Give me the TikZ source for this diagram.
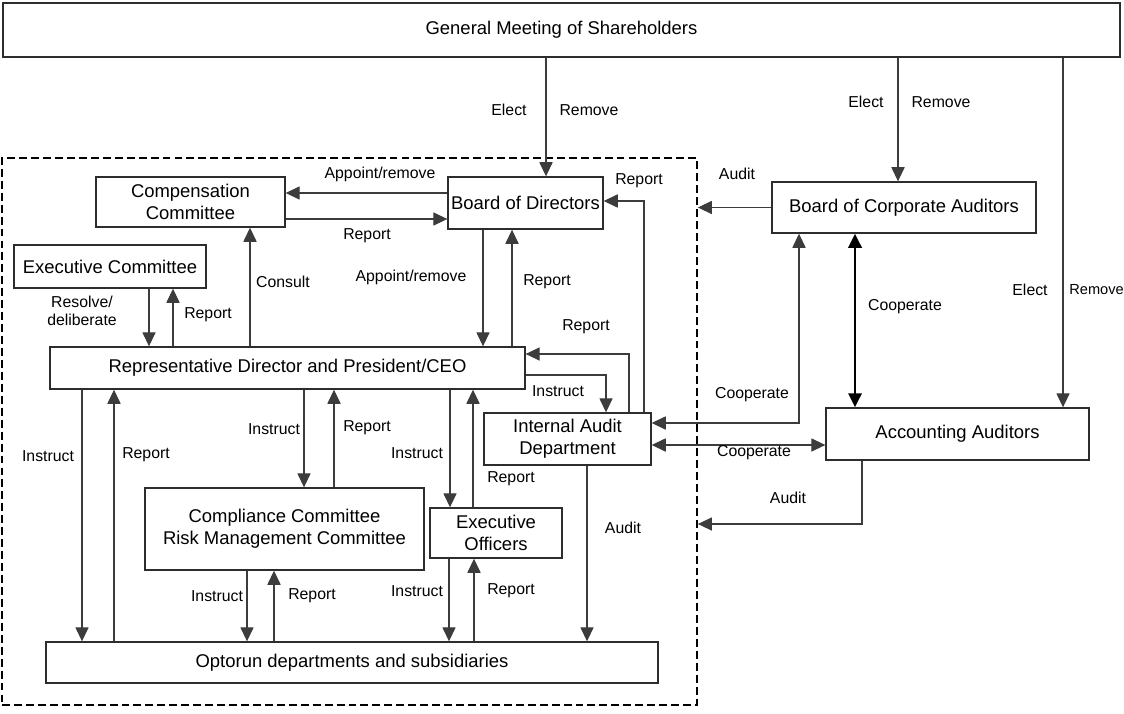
\documentclass[tikz,border=0pt]{standalone}
\usepackage{fontspec}
\setmainfont{Liberation Sans}
\usetikzlibrary{arrows.meta,positioning,calc}
\definecolor{lineC}{RGB}{60,60,60}
\definecolor{boxC}{RGB}{45,45,45}
\tikzset{
  orgbox/.style={rectangle, draw=boxC, line width=0.8pt, align=center, inner sep=0pt,
                 font=\fontsize{10.5}{12.5}\selectfont},
  lbl/.style={inner sep=0pt, align=center, font=\fontsize{9}{10.5}\selectfont},
  arr/.style={-{Triangle[length=8pt, width=7.5pt]}, line width=0.6pt, draw=lineC},
  arrboth/.style={{Triangle[length=8pt, width=7.5pt]}-{Triangle[length=8pt, width=7.5pt]},
                  line width=0.6pt, draw=lineC},
  arrthick/.style={{Triangle[length=8pt, width=7.5pt]}-{Triangle[length=8pt, width=7.5pt]},
                   line width=1.6pt, draw=black},
  groupframe/.style={rectangle, draw=black, line width=1.1pt, dash pattern=on 4.5pt off 2.3pt,
                     inner sep=0pt},
}

\begin{document}
\begin{tikzpicture}[x=0.02cm, y=-0.02cm]
  \useasboundingbox (0,0) rectangle (1124,713);

  % boxes
  \node[groupframe, minimum width=13.9cm, minimum height=10.94cm] (frame) at (349.5,431.5) {};
  \node[orgbox, minimum width=22.34cm, minimum height=1.08cm] (gm) at (561.5,30) {General Meeting of Shareholders};
  \node[orgbox, minimum width=3.78cm, minimum height=1cm] (comp) at (190.5,202) {Compensation\\Committee};
  \node[orgbox, minimum width=3.1cm, minimum height=1.04cm] (board) at (525.5,203) {Board of Directors};
  \node[orgbox, minimum width=3.84cm, minimum height=0.86cm] (execc) at (110,266.5) {Executive Committee};
  \node[orgbox, minimum width=9.5cm, minimum height=0.84cm] (ceo) at (287.5,368) {Representative Director and President/CEO};
  \node[orgbox, minimum width=3.34cm, minimum height=1.04cm] (ia) at (567.5,439) {Internal Audit\\Department};
  \node[orgbox, minimum width=5.58cm, minimum height=1.64cm] (compl) at (284.5,529) {Compliance Committee\\Risk Management Committee};
  \node[orgbox, minimum width=2.64cm, minimum height=1cm] (eo) at (496,533) {Executive\\Officers};
  \node[orgbox, minimum width=12.24cm, minimum height=0.82cm] (dept) at (352,662.5) {Optorun departments and subsidiaries};
  \node[orgbox, minimum width=5.28cm, minimum height=1.02cm] (bca) at (904,207.5) {Board of Corporate Auditors};
  \node[orgbox, minimum width=5.26cm, minimum height=1.04cm] (aa) at (957.5,434) {Accounting Auditors};

  % shareholders
  \draw[arr] (gm.south -| 546,0) -- (board.north -| 546,0);
  \draw[arr] (gm.south -| 898,0) -- (bca.north -| 898,0);
  \draw[arr] (gm.south -| 1063,0) -- (aa.north -| 1063,0);
  \node[lbl] (el1) at (509,110) {Elect};
  \node[lbl] (rm1) at (589,110) {Remove};
  \node[lbl] (el2) at (866,102) {Elect};
  \node[lbl] (rm2) at (941,102) {Remove};
  \node[lbl] (el3) at (1030,290) {Elect};
  \node[lbl, anchor=west, font=\fontsize{8.3}{10}\selectfont] (rm3) at (1069,290) {Remove};

  % board and committees
  \draw[arr] (board.west |- 0,193) -- (comp.east |- 0,193);
  \draw[arr] (comp.east |- 0,219) -- (board.west |- 0,219);
  \draw[arr] (board.south -| 483,0) -- (ceo.north -| 483,0);
  \draw[arr] (ceo.north -| 512,0) -- (board.south -| 512,0);
  \draw[arr] (ceo.north -| 250,0) -- (comp.south -| 250,0);
  \draw[arr] (execc.south -| 149,0) -- (ceo.north -| 149,0);
  \draw[arr] (ceo.north -| 173,0) -- (execc.south -| 173,0);
  \node[lbl] (l1) at (380,174) {Appoint/remove};
  \node[lbl] (l2) at (367,236) {Report};
  \node[lbl] (l3) at (411,277) {Appoint/remove};
  \node[lbl] (l4) at (547,282) {Report};
  \node[lbl] (l5) at (283,282) {Consult};
  \node[lbl] (l6) at (82,311) {Resolve/\\deliberate};
  \node[lbl] (l7) at (208,315) {Report};

  % internal audit
  \draw[arr] (ia.north -| 644,0) |- (board.east |- 0,201);
  \draw[arr] (ia.north -| 629,0) |- (ceo.east |- 0,354);
  \draw[arr] (ceo.east |- 0,375) -| (ia.north -| 606,0);
  \draw[arr] (ia.south -| 587,0) -- (dept.north -| 587,0);
  \node[lbl] (l8) at (639,181) {Report};
  \node[lbl] (l9) at (586,327) {Report};
  \node[lbl] (l10) at (558,391) {Instruct};
  \node[lbl] (l11) at (623,528) {Audit};

  % auditors
  \draw[arr] (bca.west) -- (bca.west -| frame.east);
  \draw[arrboth] (bca.south -| 799,0) |- (ia.east |- 0,423);
  \draw[arrthick] (bca.south -| 855,0) -- (aa.north -| 855,0);
  \draw[arrboth] (ia.east |- 0,445) -- (aa.west |- 0,445);
  \draw[arr] (aa.south -| 862,0) |- (frame.east |- 0,524);
  \node[lbl] (l12) at (737,174) {Audit};
  \node[lbl] (l13) at (752,395) {Cooperate};
  \node[lbl] (l14) at (905,307) {Cooperate};
  \node[lbl] (l15) at (754,453) {Cooperate};
  \node[lbl] (l16) at (788,498) {Audit};

  % CEO downwards
  \draw[arr] (ceo.south -| 82,0) -- (dept.north -| 82,0);
  \draw[arr] (dept.north -| 114,0) -- (ceo.south -| 114,0);
  \draw[arr] (ceo.south -| 304,0) -- (compl.north -| 304,0);
  \draw[arr] (compl.north -| 334,0) -- (ceo.south -| 334,0);
  \draw[arr] (ceo.south -| 450,0) -- (eo.north -| 450,0);
  \draw[arr] (eo.north -| 473,0) -- (ceo.south -| 473,0);
  \draw[arr] (compl.south -| 247,0) -- (dept.north -| 247,0);
  \draw[arr] (dept.north -| 274,0) -- (compl.south -| 274,0);
  \draw[arr] (eo.south -| 449,0) -- (dept.north -| 449,0);
  \draw[arr] (dept.north -| 474,0) -- (eo.south -| 474,0);
  \node[lbl] (l17) at (48,456) {Instruct};
  \node[lbl] (l18) at (146,455) {Report};
  \node[lbl] (l19) at (274,429) {Instruct};
  \node[lbl] (l20) at (367,428) {Report};
  \node[lbl] (l21) at (417,453) {Instruct};
  \node[lbl] (l22) at (511,479) {Report};
  \node[lbl] (l23) at (217,596) {Instruct};
  \node[lbl] (l24) at (312,596) {Report};
  \node[lbl] (l25) at (417,591) {Instruct};
  \node[lbl] (l26) at (511,591) {Report};
\end{tikzpicture}
\end{document}
